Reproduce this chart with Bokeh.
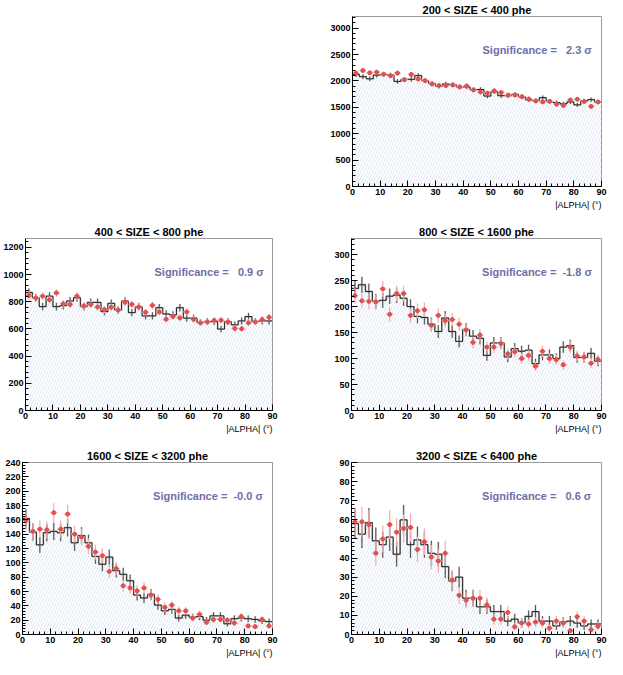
import numpy as np
from bokeh.plotting import figure
from bokeh.layouts import column, row
from bokeh.models import Spacer, Label, Range1d, SingleIntervalTicker, Title
from bokeh.embed import file_html
from bokeh.resources import INLINE

# ---- data -------------------------------------------------------------
bin_edges = [0, 2.5, 5, 7.5, 10, 12.5, 15, 17.5, 20, 22.5, 25, 27.5, 30, 32.5,
             35, 37.5, 40, 42.5, 45, 47.5, 50, 52.5, 55, 57.5, 60, 62.5, 65,
             67.5, 70, 72.5, 75, 77.5, 80, 82.5, 85, 87.5, 90]

titles = ["200 < SIZE < 400 phe", "400 < SIZE < 800 phe", "800 < SIZE < 1600 phe",
          "1600 < SIZE < 3200 phe", "3200 < SIZE < 6400 phe"]
significance = ["2.3", "0.9", "-1.8", "-0.0", "0.6"]
y_max = [3220, 1265, 331, 240, 90]
y_tick_step = [500, 200, 50, 20, 10]

# red points (ON)
on_200 = [2147, 2196, 2153, 2165, 2128, 2097, 2147, 2023, 2122, 2035, 2004, 1942,
          1911, 1911, 1924, 1887, 1905, 1831, 1788, 1769, 1812, 1781, 1732, 1732,
          1701, 1658, 1620, 1602, 1614, 1559, 1534, 1639, 1652, 1608, 1516, 1602]
on_400 = [846, 827, 841, 814, 865, 785, 780, 841, 768, 780, 761, 742, 759, 739,
          797, 780, 761, 722, 773, 725, 671, 691, 681, 725, 671, 645, 652, 662,
          664, 650, 604, 601, 645, 652, 669, 686]
on_800 = [221, 211, 210, 209, 234, 185, 225, 225, 183, 192, 194, 164, 183, 173,
          175, 166, 155, 131, 145, 122, 122, 129, 109, 113, 100, 106, 85, 114,
          100, 98, 88, 122, 105, 103, 91, 98]
on_1600 = [159, 144, 147, 146, 170, 147, 168, 140, 136, 123, 115, 110, 88, 92, 68,
           65, 61, 65, 55, 49, 38, 41, 33, 33, 23, 28, 17, 21, 21, 20, 16, 25, 12,
           11, 21, 12]
on_3200 = [59, 59, 57.5, 42.5, 50, 57.5, 53.5, 55.5, 56, 44.5, 48.5, 40.5, 38.5,
           42.5, 28.5, 20.5, 18, 19, 19, 15.5, 8, 8, 11.5, 4, 6, 5.5, 6.5, 6, 3.3,
           7, 6, 2, 9.3, 7, 2.5, 4.3]

# histogram (OFF)
off_200 = [2120, 2080, 2040, 2110, 2120, 2110, 1990, 2030, 2030, 2100, 2004, 1950,
           1900, 1940, 1930, 1887, 1887, 1830, 1837, 1713, 1794, 1720, 1720, 1745,
           1695, 1640, 1627, 1683, 1608, 1590, 1565, 1602, 1546, 1620, 1645, 1600]
off_400 = [868, 829, 764, 841, 764, 771, 805, 829, 764, 795, 795, 727, 788, 739,
           805, 720, 764, 696, 696, 756, 710, 703, 756, 679, 679, 647, 654, 654,
           599, 654, 630, 659, 691, 654, 659, 659]
off_800 = [235, 242, 229, 210, 212, 220, 222, 216, 200, 181, 179, 166, 152, 178,
           152, 133, 156, 143, 139, 106, 130, 130, 103, 119, 114, 116, 90, 107,
           107, 100, 122, 125, 102, 102, 110, 95]
off_1600 = [162, 143, 125, 142, 144, 142, 149, 128, 138, 128, 109, 98, 108, 89, 84,
            75, 55, 51, 56, 41, 33, 35, 23, 27, 24, 25, 20, 26, 26, 15, 22, 23, 22,
            21, 19, 18]
off_3200 = [58, 52.5, 58.5, 49, 47, 51, 42, 60, 47, 49.5, 47, 42.5, 42, 35.5, 28,
            30, 19, 19, 14.5, 14.5, 12, 12, 7, 8, 6, 9.5, 12, 7, 7, 4.5, 6.5, 7, 6,
            4.5, 5.5, 5.5]

on_sets = [on_200, on_400, on_800, on_1600, on_3200]
off_sets = [off_200, off_400, off_800, off_1600, off_3200]

FONT = "Liberation Sans"
RED = "#e05050"
RED_ERR = "#f4aaaa"
SIG_COL = "#6f6fa8"
HATCH = "#c8d6f0"


def make_panel(i, width, height, bl, br, bt, bb):
    on = np.array(on_sets[i], dtype=float)
    off = np.array(off_sets[i], dtype=float)
    edges = np.array(bin_edges, dtype=float)
    lo, hi = edges[:-1], edges[1:]
    ctr = (lo + hi) / 2

    p = figure(width=width, height=height, x_range=Range1d(0, 90),
               y_range=Range1d(0, y_max[i]), output_backend="svg",
               toolbar_location=None, min_border_left=bl, min_border_right=br,
               min_border_top=bt, min_border_bottom=0)
    p.title.text = titles[i]
    p.title.align = "center"
    p.title.text_font = FONT
    p.title.text_font_size = "11px"
    p.title.text_font_style = "bold"
    p.title.text_color = "black"
    p.title.standoff = 2
    p.title.offset = 0

    p.xgrid.visible = False
    p.ygrid.visible = False
    p.outline_line_color = "#999999"
    p.background_fill_color = "white"
    p.border_fill_color = "white"

    p.xaxis.ticker = SingleIntervalTicker(interval=10, num_minor_ticks=5)
    p.yaxis.ticker = SingleIntervalTicker(interval=y_tick_step[i], num_minor_ticks=5)
    for ax in (p.xaxis[0], p.yaxis[0]):
        ax.major_tick_in = 6
        ax.major_tick_out = 0
        ax.minor_tick_in = 3
        ax.minor_tick_out = 0
        ax.axis_line_color = "black"
        ax.major_tick_line_color = "black"
        ax.minor_tick_line_color = "black"
        ax.major_label_text_font = FONT
        ax.major_label_text_font_size = "9px"
        ax.major_label_text_font_style = "bold"
        ax.major_label_text_color = "black"
        ax.major_label_standoff = 2

    # x axis title, right aligned, below the axis
    xt = Title(text="|ALPHA| (\u00b0)", align="right", text_font=FONT,
               text_font_size="9px", text_font_style="normal", text_color="black",
               standoff=0, offset=0)
    p.add_layout(xt, "below")
    p.min_border_bottom = bb

    # hatched area under histogram
    p.quad(left=lo, right=hi, bottom=0, top=off, fill_alpha=0, line_alpha=0,
           hatch_pattern="/", hatch_color=HATCH, hatch_scale=6, hatch_weight=0.6)

    # histogram step line
    sx = np.repeat(edges, 2)[1:-1]
    sy = np.repeat(off, 2)
    err_off = np.sqrt(off)
    p.segment(x0=ctr, y0=off - err_off, x1=ctr, y1=off + err_off,
              line_color="#cfcfcf", line_width=2)
    p.line(sx, sy, line_color="#c4c4c4", line_width=1.8)
    p.line(sx, sy, line_color="#111111", line_width=0.9)
    p.segment(x0=ctr, y0=off - err_off, x1=ctr, y1=off + err_off,
              line_color="#333333", line_width=0.8)

    # ON points
    err_on = np.sqrt(on)
    p.segment(x0=lo, y0=on, x1=hi, y1=on, line_color=RED_ERR, line_width=1.2)
    p.segment(x0=ctr, y0=on - err_on, x1=ctr, y1=on + err_on,
              line_color=RED_ERR, line_width=1.2)
    p.scatter(ctr, on, size=4, fill_color=RED, line_color=RED)

    # significance text
    num = significance[i]
    pad = "\u00a0" if num.startswith("-") else "\u00a0\u00a0"
    p.add_layout(Label(x=47, y=y_max[i] * 0.805,
                       text=f"Significance = {pad}{num}\u00a0\u03c3",
                       text_font=FONT, text_font_size="11px", text_font_style="bold",
                       text_color=SIG_COL, text_baseline="middle", text_align="left"))
    return p


LW, RW = 327, 280
p1 = make_panel(0, RW, 216, 24, 6, 14, 30)
p2 = make_panel(1, LW, 224, 22, 55, 22, 30)
p3 = make_panel(2, RW, 224, 24, 6, 22, 30)
p4 = make_panel(3, LW, 219, 22, 55, 22, 25)
p5 = make_panel(4, RW, 219, 24, 6, 22, 25)

layout = column(row(Spacer(width=LW, height=216), p1), row(p2, p3), row(p4, p5))
open("out.html", "w").write(file_html(layout, INLINE))
